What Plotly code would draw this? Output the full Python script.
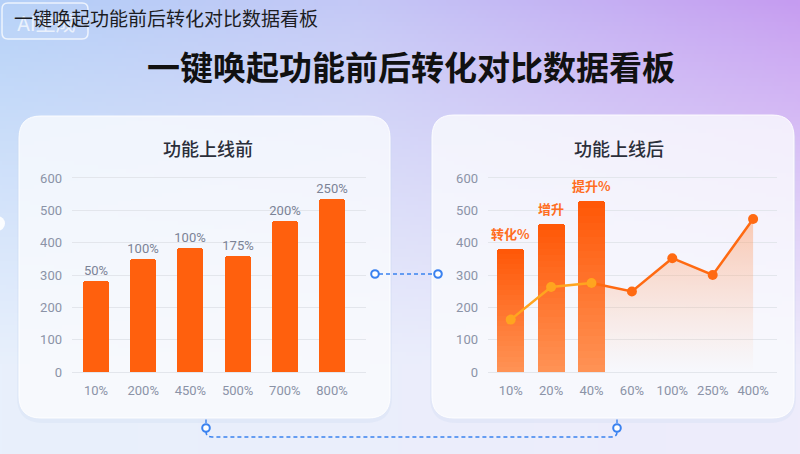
import base64
import struct
import zlib

import numpy as np
import plotly.graph_objects as go

W, H = 800, 454

# ---------------- data ----------------
before_cats = ["10%", "200%", "450%", "500%", "700%", "800%"]
before_vals = [282, 350, 383, 358, 467, 535]
before_labels = ["50%", "100%", "100%", "175%", "200%", "250%"]

after_cats = ["10%", "20%", "40%", "60%", "100%", "250%", "400%"]
after_bar_vals = [381, 457, 528]
after_bar_labels = ["转化%", "增升", "提升%"]
after_line_vals = [162, 263, 275, 249, 352, 300, 473]
line_split = 2  # index where the line turns from amber to deep orange

y_ticks = [0, 100, 200, 300, 400, 500, 600]

title_small = "一键唤起功能前后转化对比数据看板"
title_main = "一键唤起功能前后转化对比数据看板"
panel_left_title = "功能上线前"
panel_right_title = "功能上线后"

# ---------------- helpers ----------------
FONT = "Roboto, 'Noto Sans CJK SC', sans-serif"
CJK = "'Noto Sans CJK SC', sans-serif"


def px(x):
    return x / W


def py(y):
    return 1 - y / H


def png_uri(arr):
    h, w, _ = arr.shape
    raw = b"".join(b"\x00" + arr[i].tobytes() for i in range(h))

    def chunk(t, d):
        c = struct.pack(">I", len(d)) + t + d
        return c + struct.pack(">I", zlib.crc32(t + d) & 0xFFFFFFFF)

    png = (b"\x89PNG\r\n\x1a\n"
           + chunk(b"IHDR", struct.pack(">IIBBBBB", w, h, 8, 2, 0, 0, 0))
           + chunk(b"IDAT", zlib.compress(raw, 9))
           + chunk(b"IEND", b""))
    return "data:image/png;base64," + base64.b64encode(png).decode()


def background():
    bw, bh = 200, 114
    u = np.linspace(0, 1, bw)[None, :, None]
    v = np.linspace(0, 1, bh)[:, None, None]
    top_l = np.array([180, 208, 248.0])
    top_m = np.array([196, 200, 246.0])
    top_r = np.array([198, 156, 241.0])
    m = np.clip(u / 0.45, 0, 1)
    m2 = np.clip((u - 0.45) / 0.55, 0, 1)
    top = np.where(u < 0.45, top_l * (1 - m) + top_m * m, top_m * (1 - m2) + top_r * m2)
    bot_l = np.array([232, 240, 252.0])
    bot_r = np.array([238, 236, 251.0])
    bot = bot_l * (1 - u) + bot_r * u
    t = np.clip(v / 0.8, 0, 1) ** 0.85
    img = top * (1 - t) + bot * t
    return np.clip(img, 0, 255).astype(np.uint8)


def rrect(x0, y0, x1, y1, r):
    pts = [
        f"M{px(x0 + r)},{py(y0)}",
        f"L{px(x1 - r)},{py(y0)}",
        f"Q{px(x1)},{py(y0)} {px(x1)},{py(y0 + r)}",
        f"L{px(x1)},{py(y1 - r)}",
        f"Q{px(x1)},{py(y1)} {px(x1 - r)},{py(y1)}",
        f"L{px(x0 + r)},{py(y1)}",
        f"Q{px(x0)},{py(y1)} {px(x0)},{py(y1 - r)}",
        f"L{px(x0)},{py(y0 + r)}",
        f"Q{px(x0)},{py(y0)} {px(x0 + r)},{py(y0)}",
        "Z",
    ]
    return " ".join(pts)


def lerp_color(c0, c1, t):
    return "rgb({},{},{})".format(*[int(round(a + (b - a) * t)) for a, b in zip(c0, c1)])


fig = go.Figure()

# ---------------- left chart ----------------
fig.add_trace(go.Bar(
    x=before_cats, y=before_vals, text=before_labels, textposition="outside",
    constraintext="none",
    textfont=dict(color="#7b8396", size=13, family=FONT),
    marker=dict(color="#ff600d", line=dict(width=0)), width=0.55,
    cliponaxis=False, xaxis="x", yaxis="y", showlegend=False,
))

# ---------------- right chart ----------------
fig.add_trace(go.Scatter(
    x=after_cats[line_split:], y=after_line_vals[line_split:], mode="lines",
    line=dict(width=0), fill="tozeroy",
    fillgradient=dict(type="vertical", start=0, stop=max(after_line_vals),
                      colorscale=[[0, "rgba(255,170,120,0.0)"], [1, "rgba(255,150,90,0.45)"]]),
    xaxis="x2", yaxis="y2", showlegend=False, hoverinfo="skip",
))

N = 24
bottom_c = (255, 146, 84)
top_c = (255, 88, 8)
for k in range(N):
    tt = k / (N - 1)
    fig.add_trace(go.Bar(
        x=after_cats[:len(after_bar_vals)], y=[v / N for v in after_bar_vals],
        marker=dict(color=lerp_color(bottom_c, top_c, tt), line=dict(width=0)),
        width=0.67, xaxis="x3", yaxis="y3", showlegend=False, hoverinfo="skip",
    ))

fig.add_trace(go.Scatter(
    x=after_cats[line_split:], y=after_line_vals[line_split:], mode="lines+markers",
    line=dict(color="#ff6a12", width=2.5),
    marker=dict(color="#ff6a12", size=10),
    xaxis="x3", yaxis="y3", showlegend=False, cliponaxis=False,
))
fig.add_trace(go.Scatter(
    x=after_cats[:line_split + 1], y=after_line_vals[:line_split + 1], mode="lines+markers",
    line=dict(color="#ffa51f", width=2.5),
    marker=dict(color="#ffa51f", size=10),
    xaxis="x3", yaxis="y3", showlegend=False, cliponaxis=False,
))

# ---------------- axes ----------------
grid = "#e3e6ec"
tick_font = dict(color="#8b93a7", size=13, family=FONT)
ydom = [py(372), py(178)]

yax = dict(range=[0, 600], tickvals=y_ticks, showgrid=True, gridcolor=grid, gridwidth=1,
           zeroline=False, showline=False, tickfont=tick_font, ticks="",
           ticklabelstandoff=9, domain=ydom, fixedrange=True, automargin=False)
xax_common = dict(type="category", showgrid=False, zeroline=False, showline=True,
                  linecolor=grid, linewidth=1, mirror=True, ticks="",
                  tickfont=tick_font, ticklabelstandoff=6, fixedrange=True, automargin=False)

left_step = 47.2
left_dom = [72, 366]
l_r0 = -(96 - left_dom[0]) / left_step
l_r1 = l_r0 + (left_dom[1] - left_dom[0]) / left_step

right_step = 40.4
right_dom = [488, 777]
r_r0 = -(510.7 - right_dom[0]) / right_step
r_r1 = r_r0 + (right_dom[1] - right_dom[0]) / right_step

fig.update_layout(
    xaxis=dict(**xax_common, domain=[px(left_dom[0]), px(left_dom[1])], range=[l_r0, l_r1],
               anchor="y"),
    yaxis=dict(**yax, anchor="x"),
    xaxis2=dict(**xax_common, domain=[px(right_dom[0]), px(right_dom[1])], range=[r_r0, r_r1],
                anchor="y2", categoryorder="array", categoryarray=after_cats),
    yaxis2=dict(**yax, anchor="x2"),
    xaxis3=dict(type="category", overlaying="x2", range=[r_r0, r_r1], visible=False,
                categoryorder="array", categoryarray=after_cats, anchor="y3", fixedrange=True,
                automargin=False),
    yaxis3=dict(range=[0, 600], overlaying="y2", visible=False, anchor="x3", fixedrange=True,
                automargin=False),
)

# ---------------- decoration ----------------
shapes = []
for (x0, y0, x1, y1) in [(19, 116, 390, 418), (432, 115, 794, 418)]:
    shapes.append(dict(type="path", path=rrect(x0 - 2, y0 + 2, x1 + 2, y1 + 5, 26), xref="paper",
                       yref="paper", fillcolor="rgba(200,215,240,0.25)", line=dict(width=0),
                       layer="below"))
    shapes.append(dict(type="path", path=rrect(x0, y0, x1, y1, 22), xref="paper", yref="paper",
                       fillcolor="rgba(255,255,255,0.72)",
                       line=dict(width=1, color="rgba(255,255,255,0.9)"), layer="below"))
    # soft whitening towards the bottom of the card
    for k in range(1, 11):
        shapes.append(dict(type="path", path=rrect(x0, y0 + 18 * k, x1, y1, 22), xref="paper",
                           yref="paper", fillcolor="rgba(255,255,255,0.06)", line=dict(width=0),
                           layer="below"))

blue = "#3a82f0"
shapes.append(dict(type="line", xref="paper", yref="paper", x0=px(379), x1=px(434), y0=py(274),
                   y1=py(274), line=dict(color=blue, width=1.6, dash="4px,3px")))
conn = (f"M{px(206)},{py(432)} L{px(206)},{py(431.5)} Q{px(206)},{py(437)} {px(212)},{py(437)} "
        f"L{px(611)},{py(437)} Q{px(617)},{py(437)} {px(617)},{py(432)}")
shapes.append(dict(type="path", path=conn, xref="paper", yref="paper",
                   line=dict(color=blue, width=1.6, dash="4px,3px")))
for xx in (206, 617):
    shapes.append(dict(type="line", xref="paper", yref="paper", x0=px(xx), x1=px(xx),
                       y0=py(419.5), y1=py(423), line=dict(color=blue, width=1.4)))
for (cx, cy) in [(375, 274), (438, 274), (206, 428), (617, 428)]:
    r = 3.8
    shapes.append(dict(type="circle", xref="paper", yref="paper", x0=px(cx - r), x1=px(cx + r),
                       y0=py(cy + r), y1=py(cy - r), fillcolor="white",
                       line=dict(color=blue, width=2)))
shapes.append(dict(type="circle", xref="paper", yref="paper", x0=px(-10), x1=px(5),
                   y0=py(231), y1=py(216), fillcolor="rgba(255,255,255,0.9)", line=dict(width=0),
                   layer="below"))
shapes.append(dict(type="path", path=rrect(2, 3, 88, 39, 6), xref="paper", yref="paper",
                   fillcolor="rgba(255,255,255,0.05)",
                   line=dict(color="rgba(255,255,255,0.75)", width=1.5)))

annotations = [
    dict(text="AI生成", x=px(46), y=py(24), xref="paper", yref="paper", showarrow=False,
         xanchor="center", yanchor="middle",
         font=dict(color="rgba(255,255,255,0.7)", size=20, family=FONT)),
    dict(text=title_small, x=px(12), y=py(18), xref="paper", yref="paper", showarrow=False,
         xanchor="left", yanchor="middle", font=dict(color="#1c1c22", size=19, family=CJK)),
    dict(text=title_main, x=px(410.5), y=py(66), xref="paper", yref="paper", showarrow=False,
         xanchor="center", yanchor="middle",
         font=dict(color="#111111", size=33, family=CJK, weight="bold")),
    dict(text=panel_left_title, x=px(207.5), y=py(148), xref="paper", yref="paper",
         showarrow=False, xanchor="center", yanchor="middle",
         font=dict(color="#2b2f3a", size=18, family=CJK, weight=500)),
    dict(text=panel_right_title, x=px(618.5), y=py(148), xref="paper", yref="paper",
         showarrow=False, xanchor="center", yanchor="middle",
         font=dict(color="#2b2f3a", size=18, family=CJK, weight=500)),
]
# labels above the "after" bars, positioned by the chart's own axes
for cat, val, lab in zip(after_cats, after_bar_vals, after_bar_labels):
    annotations.append(dict(text=lab, x=cat, y=val, xref="x3", yref="y3", showarrow=False,
                            xanchor="center", yanchor="bottom", yshift=4,
                            font=dict(color="#ff6d22", size=13, family=CJK, weight="bold")))

fig.update_layout(
    width=W, height=H, autosize=False,
    margin=dict(l=0, r=0, t=0, b=0, pad=0, autoexpand=False),
    paper_bgcolor="#e8eefb", plot_bgcolor="rgba(0,0,0,0)",
    barmode="stack", barcornerradius=3, bargap=0,
    shapes=shapes, annotations=annotations,
    images=[dict(source=png_uri(background()), xref="paper", yref="paper", x=0, y=1,
                 sizex=1, sizey=1, sizing="stretch", xanchor="left", yanchor="top",
                 layer="below")],
    font=dict(family=FONT),
    hovermode=False,
)

fig.write_html("out.html", config=dict(displayModeBar=False))
